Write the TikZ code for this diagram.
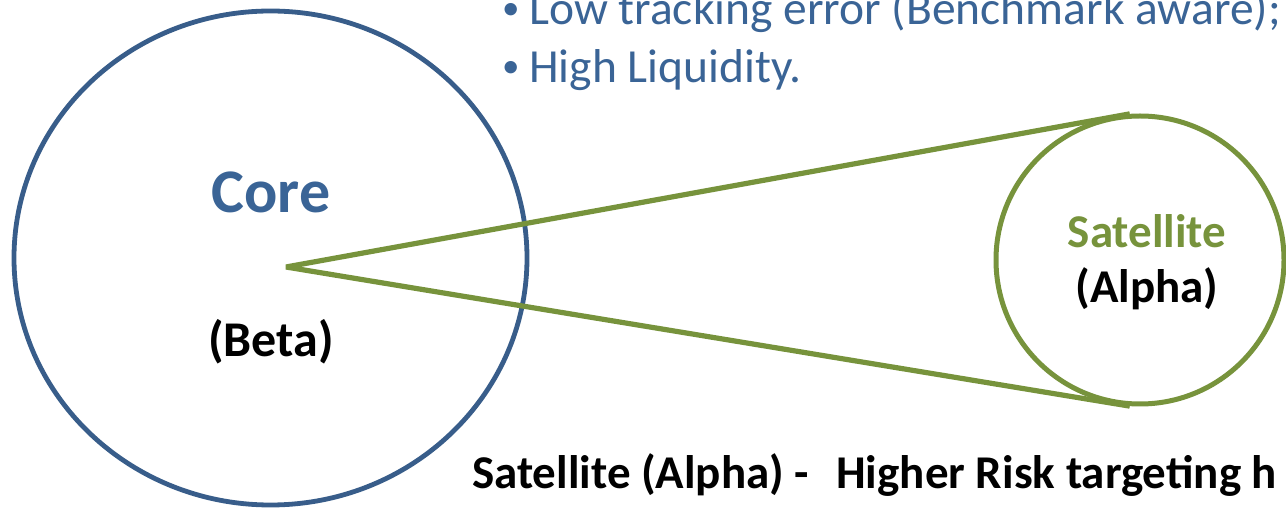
\documentclass[tikz,border=0pt]{standalone}
\usepackage{fontspec}
\setmainfont{Carlito}
\usetikzlibrary{shapes.geometric}
\definecolor{coreblue}{HTML}{385D8A}
\definecolor{textblue}{HTML}{3A6496}
\definecolor{satgreen}{HTML}{77933C}
\newcommand{\smallbul}{\makebox[30pt][l]{\hspace{3pt}\raisebox{5.5pt}{\fontsize{35}{35}\selectfont •}}}
\tikzset{
  corering/.style={draw=coreblue, line width=4.8pt, ellipse, inner sep=0pt,
    minimum width=513pt, minimum height=494pt},
  satring/.style={draw=satgreen, line width=5pt, circle, inner sep=0pt,
    minimum size=288pt},
  cone/.style={draw=satgreen, line width=5.2pt, line join=bevel},
  bulletline/.style={anchor=base west, inner sep=0pt, text=textblue,
    font=\fontsize{47.5}{57}\selectfont},
  biglabel/.style={anchor=base, inner sep=0pt, font=\bfseries\fontsize{62}{70}\selectfont},
  midlabel/.style={anchor=base, inner sep=0pt, font=\bfseries\fontsize{50}{60}\selectfont},
  satlabel/.style={anchor=base, inner sep=0pt, font=\bfseries\fontsize{47}{56}\selectfont},
  caption/.style={anchor=base west, inner sep=0pt, font=\bfseries\fontsize{47}{56}\selectfont}
}
\begin{document}
\begin{tikzpicture}[x=1pt, y=-1pt]
\useasboundingbox (0,0) rectangle (1286,510);
% circles
\node[corering] (core) at (270.5,258) {};
\node[satring] (sat) at (1140,260) {};
\coordinate (apex) at (286,267);
% cone connectors
\draw[cone] (sat.94) -- (apex) -- (sat.266);
% bullet texts
\node[bulletline] (b1) at (499,25) {\smallbul Low tracking error (Benchmark aware);};
\node[bulletline] (b2) at (499,83) {\smallbul High Liquidity.};
% labels
\node[biglabel, text=textblue] (corelbl) at (271,213) {Core};
\node[midlabel] (betalbl) at (271,357) {(Beta)};
\node[satlabel, text=satgreen] (satlbl) at (1147,248) {Satellite};
\node[satlabel] (alphalbl) at (1147,303) {(Alpha)};
\node[caption] (cap) at (472,489) {Satellite (Alpha) -\hspace{27pt}Higher Risk targeting h};
\end{tikzpicture}
\end{document}
